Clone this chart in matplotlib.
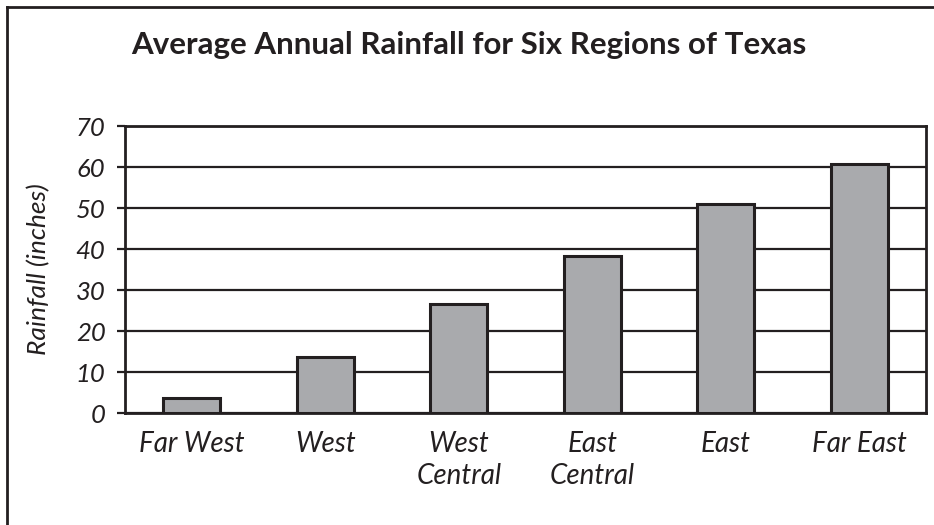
import matplotlib.pyplot as plt
from matplotlib.lines import Line2D

# data
regions = ["Far West", "West", "West\nCentral", "East\nCentral", "East", "Far East"]
rainfall = [3.6, 13.7, 26.5, 38.4, 50.9, 60.7]
y_ticks = [0, 10, 20, 30, 40, 50, 60, 70]

ink = "#231f20"
bar_gray = "#a9aaad"
plt.rcParams["font.family"] = ["Lato", "DejaVu Sans"]

fig = plt.figure(figsize=(9.34, 5.25), dpi=100)
ax = fig.add_axes([0.1338, 0.2133, 0.8576, 0.5467])

x = range(len(regions))
ax.bar(x, rainfall, width=0.43, color=bar_gray, edgecolor=ink, linewidth=2.2, zorder=3)

ax.set_xlim(-0.5, 5.5)
ax.set_ylim(0, 70)
ax.set_yticks(y_ticks)
ax.set_xticks(list(x))
ax.set_xticklabels(regions, fontsize=20, style="italic", color=ink, linespacing=1.3, va="top")
ax.set_yticklabels([str(v) for v in y_ticks], fontsize=18.5, style="italic", color=ink)
ax.yaxis.grid(True, color=ink, linewidth=1.6, zorder=0)
ax.set_axisbelow(True)
ax.tick_params(axis="x", length=0, pad=13)
ax.tick_params(axis="y", length=6, width=1.6, color=ink, pad=8)
for s in ax.spines.values():
    s.set_color(ink)
    s.set_linewidth(2.0)

ax.set_ylabel("Rainfall (inches)", fontsize=19, style="italic", color=ink, labelpad=18)

fig.text(0.502, 0.914, "Average Annual Rainfall for Six Regions of Texas",
         ha="center", va="center", fontsize=22.5, fontweight="bold", color=ink)

# outer frame (only top and left edges are in view)
fig.add_artist(Line2D([0.0075, 1.0], [0.9867, 0.9867], transform=fig.transFigure, color=ink, linewidth=2.0))
fig.add_artist(Line2D([0.0075, 0.0075], [0.0, 0.9867], transform=fig.transFigure, color=ink, linewidth=2.0))

fig.savefig("out.png", dpi=100)
